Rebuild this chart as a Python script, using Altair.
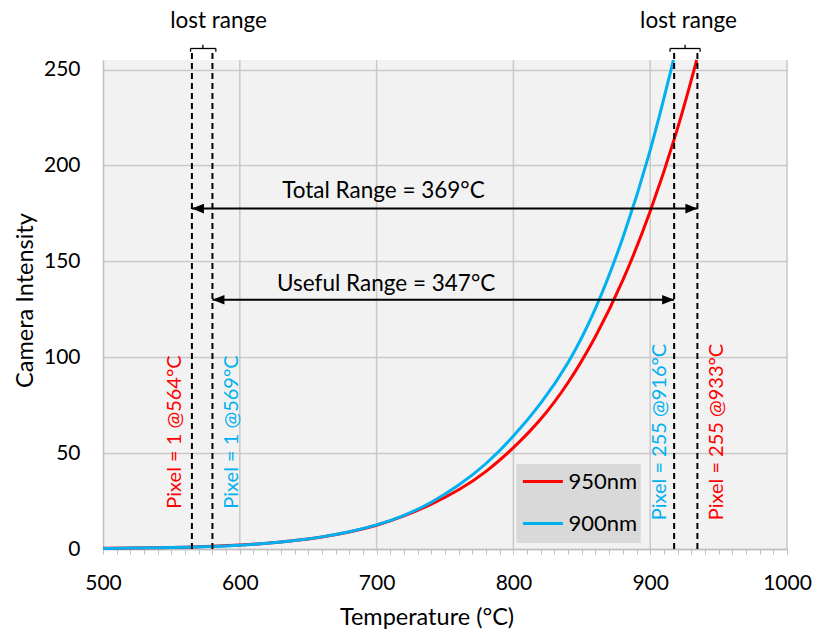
import altair as alt
import pandas as pd

FONT = "Lato"

# ---- curve data ----
temp_950 = [500, 520, 540, 560, 580, 600, 620, 640, 660, 680, 700, 720, 740, 760, 780,
            800, 820, 840, 860, 880, 900, 920, 934]
intensity_950 = [0.35, 0.5, 0.7, 0.95, 1.35, 2.0, 2.9, 4.3, 6.2, 8.7, 12.2, 17.0, 23.2, 30.5, 40.0,
                 52.5, 67.0, 86.0, 110.0, 139.0, 175.0, 218.0, 255.0]
temp_900 = [500, 520, 540, 560, 580, 600, 620, 640, 660, 680, 700, 720, 740, 760, 780,
            800, 820, 840, 860, 880, 900, 917]
intensity_900 = [0.3, 0.45, 0.65, 0.85, 1.3, 1.9, 2.9, 4.3, 6.2, 8.8, 12.3, 17.3, 24.0, 33.0, 44.0,
                 58.5, 75.5, 96.0, 124.0, 161.0, 206.0, 255.0]

series_names = ["950nm", "900nm"]
series_colors = ["#ff0000", "#00b0f0"]

# axis ticks
x_major = [500, 600, 700, 800, 900, 1000]
x_minor = list(range(500, 1001, 10))
y_major = [0, 50, 100, 150, 200, 250]

# ---- annotations (data units) ----
cut_T = [565, 580, 917.5, 934.5]
cut_top = [260, 260, 260, 260]

pixel_text = ["Pixel = 1 @564°C", "Pixel = 1 @569°C", "Pixel = 255 @916°C", "Pixel = 255 @933°C"]
pixel_T = [552.5, 594, 907, 949]
pixel_I = [61, 61, 61, 61]
pixel_series = ["950nm", "900nm", "900nm", "950nm"]

range_text = ["Total Range = 369°C", "Useful Range = 347°C"]
range_start = [565, 580]
range_end = [934.5, 917.5]
range_I = [177.5, 130]
range_text_T = [705, 707]
range_text_I = [186.5, 138]

lost_text = ["lost range", "lost range"]
lost_T = [584.5, 928]
lost_I = [275.5, 275.5]
bracket_lo = [564, 914.5]
bracket_hi = [582.5, 936.5]
bracket_mid = [573, 925.5]
bracket_I = [261, 261]
bracket_end_I = [259.3, 259.3]
bracket_mid_I = [263, 263]

# legend box corners (data units)
legend_box_T = [802.2, 893.1]
legend_box_I = [3.1, 44.3]

curves = pd.DataFrame({
    "T": temp_950 + temp_900,
    "I": intensity_950 + intensity_900,
    "series": [series_names[0]] * len(temp_950) + [series_names[1]] * len(temp_900),
})
vgrid = pd.DataFrame({"T": x_major[1:], "I0": [0] * 5, "I1": [255] * 5})
cuts = pd.DataFrame({"T": cut_T, "top": cut_top, "bottom": [0] * len(cut_T)})
pixels = pd.DataFrame({"text": pixel_text, "T": pixel_T, "I": pixel_I, "series": pixel_series})
ranges = pd.DataFrame({"text": range_text, "x0": range_start, "x1": range_end, "I": range_I,
                       "tT": range_text_T, "tI": range_text_I})
lost = pd.DataFrame({"text": lost_text, "T": lost_T, "I": lost_I, "lo": bracket_lo, "hi": bracket_hi,
                     "mid": bracket_mid, "bI": bracket_I, "eI": bracket_end_I, "mI": bracket_mid_I})
lbox = pd.DataFrame({"x0": [legend_box_T[0]], "x1": [legend_box_T[1]],
                     "y0": [legend_box_I[0]], "y1": [legend_box_I[1]]})

xs = alt.Scale(domain=[500, 1000], nice=False, zero=False)
ys = alt.Scale(domain=[0, 255], nice=False, zero=True)
cs = alt.Scale(domain=series_names, range=series_colors)

GRID = "#c9c9c9"

x_axis = alt.Axis(
    values=x_minor,
    labelExpr="datum.value % 100 === 0 ? datum.label : ''",
    format="d",
    labelOverlap=False, labelFlush=False,
    grid=False,
    tickSize=5, tickColor="#bfbfbf", tickWidth=1,
    domainColor="#bfbfbf", domainWidth=1.5,
    labelFont=FONT, labelFontSize=21, labelColor="black", labelPadding=18,
    titleFont=FONT, titleFontSize=23.5, titleFontWeight="normal", titleColor="black",
    titleX=323.5, titleY=68, titleAlign="center", titleBaseline="middle",
)
y_axis = alt.Axis(
    values=y_major,
    grid=True, gridColor=GRID, gridWidth=1.5,
    ticks=False, domainColor="#bfbfbf", domainWidth=1.5,
    labelFont=FONT, labelFontSize=21, labelColor="black", labelPadding=23,
    titleFont=FONT, titleFontSize=23.5, titleFontWeight="normal", titleColor="black",
    titleX=-78, titleY=240, titleAngle=270, titleAlign="center", titleBaseline="middle",
)


def X(field):
    return alt.X(field, type="quantitative", scale=xs, axis=x_axis, title="Temperature (°C)")


def Y(field):
    return alt.Y(field, type="quantitative", scale=ys, axis=y_axis, title="Camera Intensity")


grid_rules = alt.Chart(vgrid).mark_rule(color=GRID, strokeWidth=1.5).encode(
    x=X("T"), y=Y("I0"), y2="I1",
)

legend_box = alt.Chart(lbox).mark_rect(color="#d9d9d9").encode(
    x=X("x0"), x2="x1", y=Y("y0"), y2="y1",
)

lines = alt.Chart(curves).mark_line(strokeWidth=3, interpolate="basis").encode(
    x=X("T"),
    y=Y("I"),
    color=alt.Color("series:N", scale=cs, sort=series_names, legend=alt.Legend(
        orient="none", legendX=418.4, legendY=400, title=None,
        padding=0, symbolType="stroke", symbolSize=1600,
        symbolStrokeWidth=3, labelFont=FONT, labelFontSize=22, labelColor="black",
        rowPadding=9, labelOffset=4)),
    detail="series:N",
)

cut_rules = alt.Chart(cuts).mark_rule(color="black", strokeWidth=2, strokeDash=[6, 4]).encode(
    x=X("T"), y=Y("bottom"), y2="top",
)

pixel_labels = alt.Chart(pixels).mark_text(angle=270, font=FONT, fontSize=20, align="center",
                                           baseline="middle").encode(
    x=X("T"), y=Y("I"),
    text="text:N",
    color=alt.Color("series:N", scale=cs, legend=None),
)

shafts = alt.Chart(ranges).mark_rule(color="black", strokeWidth=2).encode(
    x=X("x0"), x2="x1", y=Y("I"),
)
head_left = alt.Chart(ranges).mark_point(shape="M0,0L2,-0.8L2,0.8Z", filled=True, size=144,
                                         color="black", opacity=1, strokeWidth=0).encode(
    x=X("x0"), y=Y("I"),
)
head_right = alt.Chart(ranges).mark_point(shape="M0,0L-2,-0.8L-2,0.8Z", filled=True, size=144,
                                          color="black", opacity=1, strokeWidth=0).encode(
    x=X("x1"), y=Y("I"),
)
range_labels = alt.Chart(ranges).mark_text(font=FONT, fontSize=22.5, color="black", align="center",
                                           baseline="middle").encode(
    x=X("tT"), y=Y("tI"), text="text:N",
)

lost_labels = alt.Chart(lost).mark_text(font=FONT, fontSize=22.5, color="black", align="center",
                                        baseline="middle").encode(
    x=X("T"), y=Y("I"), text="text:N",
)
br_h = alt.Chart(lost).mark_rule(color="black", strokeWidth=1.3).encode(
    x=X("lo"), x2="hi", y=Y("bI"),
)
br_l = alt.Chart(lost).mark_rule(color="black", strokeWidth=1.3).encode(
    x=X("lo"), y=Y("bI"), y2="eI",
)
br_r = alt.Chart(lost).mark_rule(color="black", strokeWidth=1.3).encode(
    x=X("hi"), y=Y("bI"), y2="eI",
)
br_m = alt.Chart(lost).mark_rule(color="black", strokeWidth=1.3).encode(
    x=X("mid"), y=Y("bI"), y2="mI",
)

chart = alt.layer(
    grid_rules, legend_box, lines, cut_rules, pixel_labels, shafts, head_left, head_right,
    range_labels, lost_labels, br_h, br_l, br_r, br_m,
).properties(
    width=684, height=489,
    autosize=alt.AutoSizeParams(type="none"),
    padding={"left": 103, "top": 60, "right": 29, "bottom": 82},
    background="white",
).configure_view(fill="#f2f2f2", stroke=None)

chart.save("out.html", embed_options={"renderer": "svg", "actions": False})
